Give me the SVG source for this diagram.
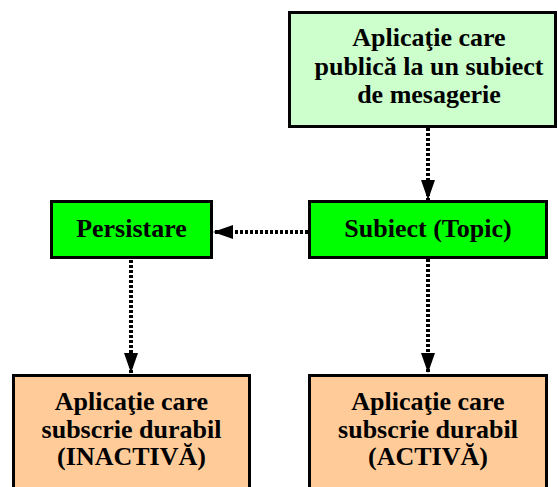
<svg xmlns="http://www.w3.org/2000/svg" width="558" height="487" viewBox="0 0 558 487">
  <style>
    .box { stroke: #000; stroke-width: 3; }
    .pub { fill: #ccffcc; }
    .core { fill: #00ff00; }
    .sub { fill: #ffcc99; }
    .lbl { font-weight: bold; font-size: 26px; fill: #000; text-anchor: middle; }
    .link { stroke: #000; stroke-width: 4; stroke-dasharray: 3 2; fill: none; }
  </style>
  <defs>
    <marker id="arrow" markerUnits="userSpaceOnUse" markerWidth="20" markerHeight="14" refX="20" refY="7" orient="auto">
      <path d="M0,0 L20,7 L0,14 Z" fill="#000"/>
    </marker>
  </defs>
  <rect width="558" height="487" fill="#fff"/>

  <g id="connectors">
    <line class="link" x1="428" y1="128" x2="428" y2="200" marker-end="url(#arrow)"/>
    <line class="link" x1="308" y1="232" x2="213" y2="232" marker-end="url(#arrow)"/>
    <line class="link" x1="131" y1="260" x2="131" y2="373" marker-end="url(#arrow)"/>
    <line class="link" x1="428" y1="259" x2="428" y2="373" marker-end="url(#arrow)"/>
  </g>

  <g font-family="'Liberation Serif', 'DejaVu Serif', serif">
    <g id="publisher">
      <rect class="box pub" x="289.5" y="12.5" width="266" height="114"/>
      <text class="lbl" x="429" y="46">Aplicaţie care</text>
      <text class="lbl" x="429" y="75">publică la un subiect</text>
      <text class="lbl" x="429" y="103">de mesagerie</text>
    </g>

    <g id="topic">
      <rect class="box core" x="309.5" y="201.5" width="237" height="56"/>
      <text class="lbl" x="428" y="237">Subiect (Topic)</text>
    </g>

    <g id="persistence">
      <rect class="box core" x="51.5" y="201.5" width="160" height="56"/>
      <text class="lbl" x="131.5" y="237">Persistare</text>
    </g>

    <g id="inactive-subscriber">
      <rect class="box sub" x="13.5" y="375.5" width="236" height="120"/>
      <text class="lbl" x="131.5" y="410">Aplicaţie care</text>
      <text class="lbl" x="131.5" y="438">subscrie durabil</text>
      <text class="lbl" x="131.5" y="465">(INACTIVĂ)</text>
    </g>

    <g id="active-subscriber">
      <rect class="box sub" x="309.5" y="375.5" width="237" height="120"/>
      <text class="lbl" x="428" y="410">Aplicaţie care</text>
      <text class="lbl" x="428" y="438">subscrie durabil</text>
      <text class="lbl" x="428" y="465">(ACTIVĂ)</text>
    </g>
  </g>
</svg>
